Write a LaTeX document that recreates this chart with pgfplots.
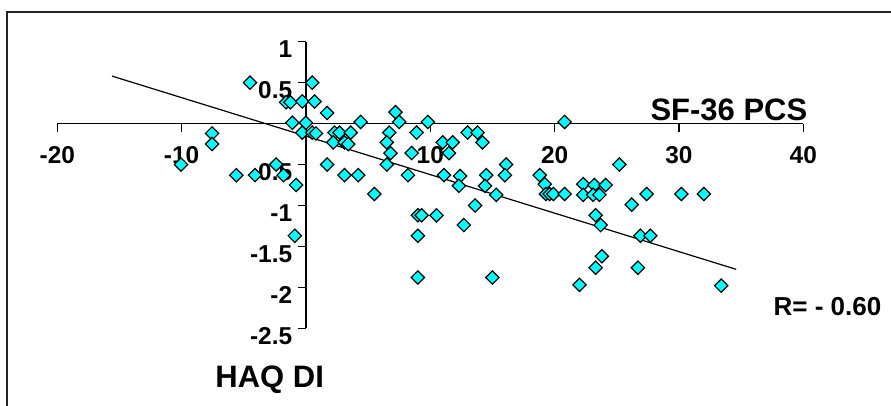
\documentclass[border=0pt]{standalone}
\usepackage{fontspec}
\setmainfont{Liberation Sans}
\usepackage{pgfplots}
\pgfplotsset{compat=1.18}
\definecolor{markfill}{RGB}{0,255,255}

% scores: change in SF-36 PCS (x) against change in HAQ DI (y)
\pgfplotstableread{
x y
-4.5 0.50
0.5 0.50
-1.6 0.26
-1.25 0.26
-0.3 0.27
0.7 0.27
1.7 0.13
-1.1 0.01
0.0 0.01
-0.3 -0.11
0.5 -0.11
0.8 -0.12
-7.55 -0.12
-7.55 -0.25
-10.05 -0.50
-5.6 -0.63
-4.1 -0.63
-2.4 -0.50
-1.8 -0.63
-0.8 -0.75
-0.9 -1.37
1.7 -0.50
2.3 -0.11
2.7 -0.11
3.6 -0.11
2.2 -0.23
3.1 -0.23
3.4 -0.25
4.4 0.02
3.1 -0.63
4.2 -0.63
5.5 -0.86
6.7 -0.11
6.5 -0.23
6.8 -0.36
7.2 0.14
7.5 0.02
6.5 -0.50
8.9 -0.11
8.5 -0.36
8.2 -0.63
9.8 0.02
9.0 -1.12
9.3 -1.12
10.5 -1.12
9.0 -1.37
9.0 -1.88
11.0 -0.23
11.8 -0.23
11.5 -0.36
11.1 -0.63
12.4 -0.64
12.3 -0.76
13.0 -0.11
13.8 -0.11
14.2 -0.23
14.5 -0.63
14.4 -0.76
15.3 -0.87
13.6 -1.00
12.7 -1.24
15.0 -1.88
16.1 -0.50
16.0 -0.63
18.8 -0.63
19.2 -0.74
19.3 -0.86
19.6 -0.86
19.9 -0.86
20.8 -0.86
20.8 0.02
22.0 -1.97
22.3 -0.74
23.2 -0.75
24.1 -0.75
22.3 -0.87
23.1 -0.87
23.6 -0.87
25.2 -0.50
26.2 -0.99
27.4 -0.86
30.2 -0.86
32.0 -0.86
23.3 -1.12
23.7 -1.24
26.9 -1.37
27.7 -1.37
23.8 -1.62
23.3 -1.76
26.7 -1.76
33.4 -1.98
}\scores

\begin{document}
\begin{tikzpicture}
\useasboundingbox (0,0) rectangle (445.5pt,203pt);
\begin{scope}
  \clip (0,0) rectangle (445.5pt,203pt);
  \draw[line width=1pt, black!85] (3.5pt,197pt) rectangle (470pt,-20pt);
\end{scope}
\begin{axis}[
  at={(28.65pt,38.85pt)}, anchor=south west,
  scale only axis, width=373pt, height=143.3pt,
  xmin=-20, xmax=40, ymin=-2.5, ymax=1,
  axis lines=middle,
  axis line style={-, line width=0.85pt},
  clip=false,
  xtick={-20,-10,10,20,30,40},
  ytick={-2.5,-2,-1.5,-1,-0.5,0.5,1},
  tick align=outside,
  major tick length=4pt,
  tick style={line width=0.7pt, black},
  /pgf/number format/assume math mode=true,
  ticklabel style={font=\bfseries\fontsize{12.2}{14}\selectfont, inner sep=0pt},
  xticklabel style={anchor=base, yshift=-16pt},
  yticklabel style={anchor=base east, xshift=-2.7pt, yshift=-8pt},
]
\addplot[only marks, mark=square*, mark size=2.35pt,
  mark options={rotate=45, fill=markfill, draw=black, line width=0.6pt}]
  table[x=x, y=y] {\scores};
\addplot[black, line width=0.6pt] coordinates {(-15.6,0.58) (34.6,-1.78)};
\end{axis}
\node[anchor=base east, inner sep=0pt, font=\bfseries\fontsize{15.5}{18}\selectfont] at (403.85pt,142.65pt) {SF-36 PCS};
\node[anchor=base west, inner sep=0pt, font=\bfseries\fontsize{15.5}{18}\selectfont] at (107.5pt,9.15pt) {HAQ DI};
\node[anchor=base west, inner sep=0pt, font=\bfseries\fontsize{13}{16}\selectfont] at (386.65pt,45pt) {R= - 0.60};
\end{tikzpicture}
\end{document}
